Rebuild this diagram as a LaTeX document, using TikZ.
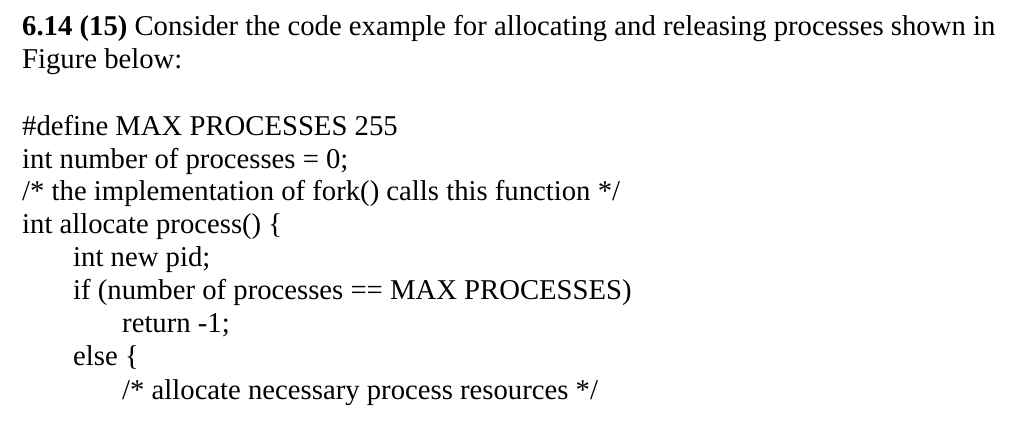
\documentclass[tikz,border=0pt]{standalone}
\usepackage{fontspec}
\setmainfont{Liberation Serif}
\begin{document}
\begin{tikzpicture}[x=1pt,y=1pt,t/.style={anchor=base west,inner sep=0pt,font=\fontsize{28.7}{30}\selectfont}]
\useasboundingbox[fill=white] (0,0) rectangle (1014,-424);
\node[t] (l1) at (22,-35) {\textbf{6.14 (15)} Consider the code example for allocating and releasing processes shown in};
\node[t] (l2) at (22,-68) {Figure below:};
\node[t] (l3) at (22,-135) {\#define MAX PROCESSES 255};
\node[t] (l4) at (22,-168) {int number of processes = 0;};
\node[t] (l5) at (22,-200) {/* the implementation of fork() calls this function */};
\node[t] (l6) at (22,-233) {int allocate process() \{};
\node[t] (l7) at (73,-266) {int new pid;};
\node[t] (l8) at (73,-299) {if (number of processes == MAX PROCESSES)};
\node[t] (l9) at (122,-332) {return -1;};
\node[t] (l10) at (73,-365) {else \{};
\node[t] (l11) at (122,-399) {/* allocate necessary process resources */};
\end{tikzpicture}
\end{document}
